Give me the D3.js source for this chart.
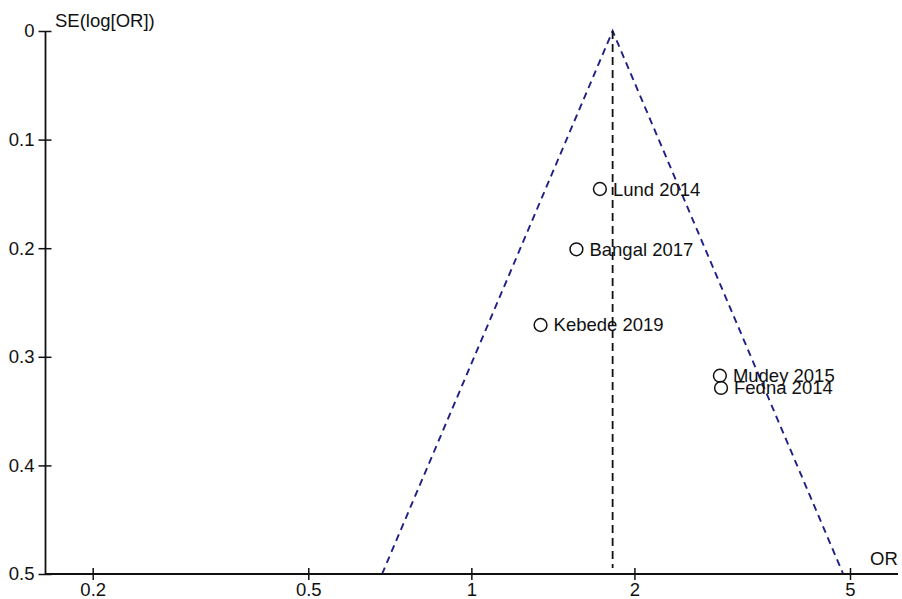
<!DOCTYPE html>
<html>
<head>
<meta charset="utf-8">
<script src="https://cdn.jsdelivr.net/npm/d3@7"></script>
<style>
  html, body { margin: 0; padding: 0; background: #fff; }
  svg { display: block; font-family: "Liberation Sans", Arial, sans-serif; }
</style>
</head>
<body>
<svg id="chart" width="902" height="599"></svg>
<script>
const studies = ['Lund 2014', 'Bangal 2017', 'Kebede 2019', 'Mudey 2015', 'Fedna 2014'];
const orValues = [1.727, 1.563, 1.342, 2.876, 2.89];
const seValues = [0.1455, 0.201, 0.2707, 0.3174, 0.3287];
const pooledOR = 1.823;
const xTicks = [0.2, 0.5, 1, 2, 5];
const yTicks = [0, 0.1, 0.2, 0.3, 0.4, 0.5];

const d3 = window.d3;
const svg = d3.select('#chart');
const axisX = 45.5;
const axisY = 574;

const x = d3.scaleLog([0.2, 5], [92.7, 850]);
const y = d3.scaleLinear([0, 0.5], [31, axisY]);
const fontSize = 18.5;
const ink = '#111';

// funnel (95% limits around pooled estimate)
const lp = Math.log(pooledOR);
const seMax = 0.5;
const funnel = [
  [Math.exp(lp - 1.96 * seMax), seMax],
  [pooledOR, 0],
  [Math.exp(lp + 1.96 * seMax), seMax],
];
svg.append('path')
  .attr('d', d3.line().x((d) => x(d[0])).y((d) => y(d[1]))(funnel))
  .attr('fill', 'none').attr('stroke', '#1f1f86').attr('stroke-width', 1.9)
  .attr('stroke-dasharray', '7,5');

// pooled line
svg.append('line')
  .attr('x1', x(pooledOR)).attr('x2', x(pooledOR))
  .attr('y1', y(0)).attr('y2', y(0.5) - 6)
  .attr('stroke', ink).attr('stroke-width', 1.8).attr('stroke-dasharray', '8,5');

// axes
const gy = svg.append('g').attr('transform', `translate(${axisX},0)`)
  .call(d3.axisLeft(y).tickValues(yTicks).tickSizeInner(7).tickSizeOuter(0).tickPadding(4).tickFormat(d3.format('~g')));
gy.select('.domain').remove();
gy.selectAll('.tick line').attr('x1', 6).attr('stroke', ink).attr('stroke-width', 1.5);
gy.selectAll('.tick text').attr('font-size', fontSize).attr('fill', ink).attr('font-family', null);
svg.append('line').attr('x1', axisX).attr('x2', axisX).attr('y1', y(0)).attr('y2', axisY)
  .attr('stroke', ink).attr('stroke-width', 1.8);

const gx = svg.append('g').attr('transform', `translate(0,${axisY})`)
  .call(d3.axisBottom(x).tickValues(xTicks).tickSizeInner(6).tickSizeOuter(0).tickPadding(3).tickFormat(d3.format('~g')));
gx.select('.domain').remove();
gx.selectAll('.tick line').attr('y1', -6).attr('stroke', ink).attr('stroke-width', 1.5);
gx.selectAll('.tick text').attr('font-size', fontSize).attr('fill', ink).attr('font-family', null);
svg.append('line').attr('x1', axisX).attr('x2', 898).attr('y1', axisY).attr('y2', axisY)
  .attr('stroke', ink).attr('stroke-width', 1.8);

svg.append('text').attr('x', 55).attr('y', 27).attr('font-size', fontSize).attr('fill', ink).text('SE(log[OR])');
svg.append('text').attr('x', 870).attr('y', 565).attr('font-size', fontSize).attr('fill', ink).text('OR');

// studies
const pts = studies.map((name, i) => ({ name, or: orValues[i], se: seValues[i] }));
const g = svg.append('g');
g.selectAll('circle').data(pts).join('circle')
  .attr('cx', (d) => x(d.or)).attr('cy', (d) => y(d.se)).attr('r', 6.4)
  .attr('fill', 'none').attr('stroke', ink).attr('stroke-width', 1.5);
g.selectAll('text').data(pts).join('text')
  .attr('x', (d) => x(d.or) + 13).attr('y', (d) => y(d.se) + 6.5)
  .attr('font-size', fontSize).attr('fill', ink).text((d) => d.name);
</script>
</body>
</html>
